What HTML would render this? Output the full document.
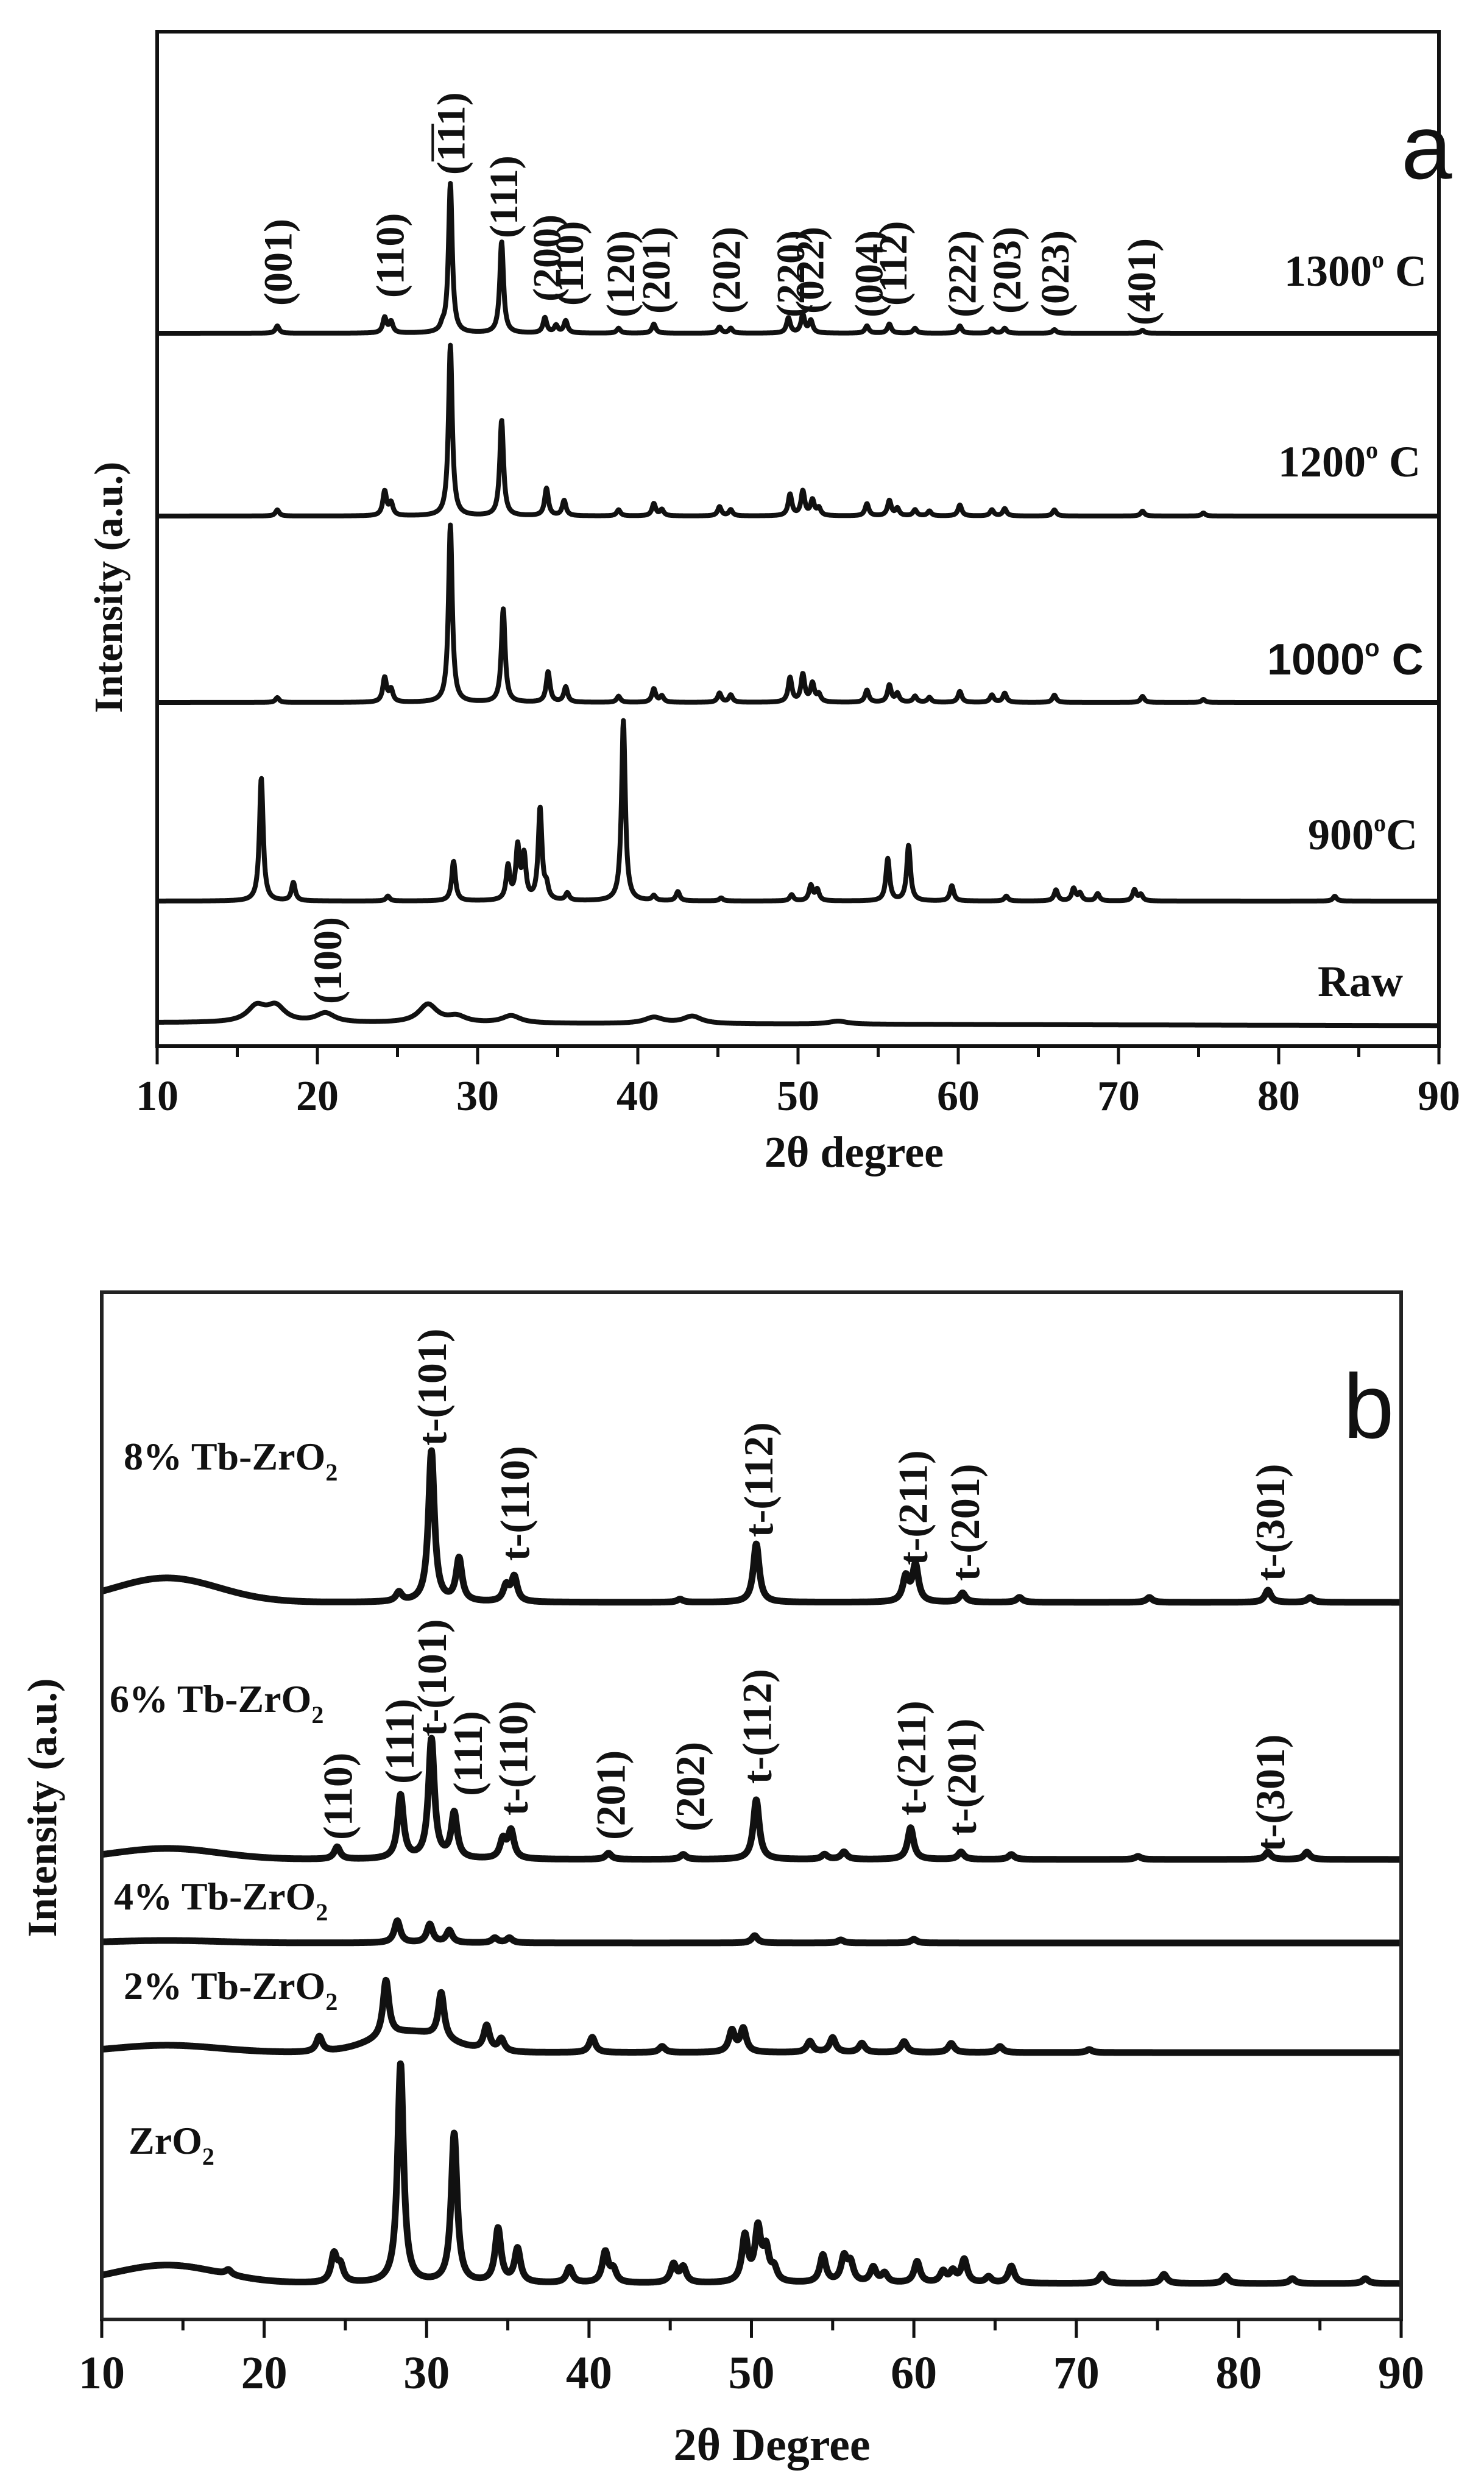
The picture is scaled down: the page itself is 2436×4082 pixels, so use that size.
<!DOCTYPE html>
<html><head><meta charset="utf-8"><style>
html,body{margin:0;padding:0;background:#fff;}
svg{display:block;}
.t{font-family:"Liberation Serif",serif;font-weight:bold;fill:#111;}
.s{font-family:"Liberation Sans",sans-serif;fill:#111;}
</style></head><body>
<svg id="fig" xmlns="http://www.w3.org/2000/svg" width="2436" height="4082" viewBox="0 0 2436 4082">
<rect x="0" y="0" width="2436" height="4082" fill="#fff"/>
<g id="pa"></g>
<g id="pb"></g>
</svg>
<script>
// ---------- DATA: panel a ----------
const aNames = ["1300","1200","1000","900","Raw"];
const aBase = [547, 847, 1153, 1479, 1681];
const aPeaks1300 = [[17.5,12],[24.2,25],[24.6,18],[27.8,8],[28.3,245],[31.5,150],[34.2,25],[34.9,12],[35.5,20],[38.8,8],[41,15],[45.1,10],[45.8,8],[49.4,25],[50.3,30],[50.8,20],[54.3,12],[55.7,15],[57.3,8],[60.1,12],[62.1,7],[62.9,8],[66,6],[71.5,5]];
const aPeaks1200 = [[17.5,10],[24.2,40],[24.6,20],[28.3,280],[31.5,157],[34.3,45],[35.4,25],[38.8,10],[41,20],[41.5,10],[45.1,15],[45.8,10],[49.5,35],[50.3,40],[50.9,25],[51.3,12],[54.3,20],[55.7,25],[56.2,12],[57.3,10],[58.2,8],[60.1,18],[62.1,10],[62.9,12],[66,10],[71.5,8],[75.3,5]];
const aPeaks1000 = [[17.5,8],[24.2,40],[24.6,20],[28.3,291],[31.6,153],[34.4,50],[35.5,25],[38.8,10],[41,22],[41.5,10],[45.1,15],[45.8,12],[49.5,40],[50.3,45],[50.9,30],[51.3,12],[54.3,20],[55.7,28],[56.2,14],[57.3,10],[58.2,8],[60.1,18],[62.1,12],[62.9,15],[66,12],[71.5,10],[75.3,5]];
const aPeaks900 = [[16.5,202],[18.5,30],[24.4,8],[28.5,65],[31.9,55],[32.5,85],[32.9,70],[33.9,150],[34.3,20],[35.6,12],[39.1,296],[41,8],[42.5,15],[45.2,5],[49.6,10],[50.8,25],[51.2,18],[55.6,69],[56.9,91],[59.6,25],[63,8],[66.1,18],[67.2,20],[67.6,12],[68.7,12],[71,18],[71.4,10],[83.5,8]];
const aPeaksRaw = [[16.2,25],[17.4,25],[20.5,15],[26.9,30],[28.7,10],[32.1,12],[41,10],[43.4,12],[52.5,5]];
const aLabelText = ["(001)","(110)","(111)","(111)","(200)","(110)","(120)","(201)","(202)","(220)","(022)","(004)","(112)","(222)","(203)","(023)","(401)","(100)"];
const aLabelPos = [17.5,24.5,28.3,31.6,34.3,35.7,38.9,41.1,45.5,49.5,50.7,54.4,55.9,60.2,63,66,71.4,20.6];
const aLabelBottom = [502,489,287,391,495,502,521,515,515,521,515,521,502,521,515,521,534,1648];
const aTicks = [10,20,30,40,50,60,70,80,90];

// ---------- DATA: panel b ----------
const bNames = ["8%","6%","4%","2%","ZrO2"];
const bBase = [2630, 3052, 3189, 3369, 3748];
const bHump = [[14,40],[14,18],[14,4],[14,12],[14,30]];
const bPeaks8 = [[28.3,15],[30.3,248],[32,70],[34.9,25],[35.4,40],[45.6,5],[50.3,96],[59.5,40],[60.1,60],[63,15],[66.5,8],[74.5,8],[81.8,20],[84.4,8]];
const bPeaks6 = [[24.5,20],[28.4,104],[30.3,196],[31.7,74],[34.7,30],[35.2,45],[41.2,10],[45.8,8],[50.3,98],[54.5,8],[55.7,12],[59.8,52],[62.9,12],[66,8],[73.8,5],[81.8,12],[84.2,12]];
const bPeaks4 = [[28.2,36],[30.2,30],[31.4,20],[34.2,8],[35.1,8],[50.2,12],[55.5,5],[60,6]];
const bPeaks2 = [[23.4,25],[27.5,92],[30.9,75],[33.7,40],[34.6,20],[40.2,25],[44.5,10],[48.8,35],[49.5,38],[53.6,18],[55,24],[56.8,15],[59.4,18],[62.3,15],[65.3,10],[70.8,5]];
const bBroad2 = [29,33];
const bPeaksZ = [[17.8,8],[24.3,45],[24.7,25],[28.4,360],[31.7,245],[34.4,88],[35.6,55],[38.8,25],[41,50],[41.5,20],[45.2,30],[45.8,25],[49.6,75],[50.4,85],[50.9,50],[51.4,20],[54.4,45],[55.7,40],[56.1,30],[57.5,25],[58.2,15],[60.2,35],[61.8,18],[62.4,18],[63.1,38],[64.6,10],[66,28],[71.6,15],[75.4,15],[79.2,12],[83.3,8],[87.8,8]];
const bLabelText = ["t-(101)","t-(110)","t-(112)","t-(211)","t-(201)","t-(301)","(110)","(111)","t-(101)","(111)","t-(110)","(201)","(202)","t-(112)","t-(211)","t-(201)","t-(301)"];
const bLabelPos = [30.3,35.4,50.4,59.9,63.1,81.9,24.5,28.3,30.3,32.5,35.3,41.3,46.2,50.3,59.8,62.9,81.9];
const bLabelBottom = [2373,2562,2523,2569,2595,2595,3020,2928,2850,2948,2980,3020,3006,2928,2980,3013,3039];
const bTicks = [10,20,30,40,50,60,70,80,90];

// ---------- helpers ----------
const NS = "http://www.w3.org/2000/svg";
function mk(tag, attrs, parent){const e=document.createElementNS(NS,tag);for(const k in attrs)e.setAttribute(k,attrs[k]);parent.appendChild(e);return e;}
function prof(x, peaks, w){let s=0;for(const p of peaks){const d=(x-p[0])/w;s+=p[1]/(1+d*d);}return s;}

// ---------- panel a ----------
(function(){
const g=document.getElementById('pa');
const L=258,R=2362,T=52,B=1717;
const X=v=>L+(v-10)*(R-L)/80;
const sets=[aPeaks1300,aPeaks1200,aPeaks1000,aPeaks900,aPeaksRaw];
sets.forEach((pk,i)=>{
  let d="";
  const w=(i===4)?0.7:0.14;
  for(let v=10;v<=90.001;v+=0.03){
    const y=aBase[i]-prof(v,pk,w)+(i===4?(v-50)*0.06:0);
    d+=(d?"L":"M")+X(v).toFixed(1)+","+y.toFixed(1);
  }
  const p=mk('path',{d:d,fill:'none',stroke:'#111','stroke-width':8,'stroke-linejoin':'round'},g);
  
  
});
const fr=mk('rect',{x:L,y:T,width:R-L,height:B-T,fill:'none',stroke:'#111','stroke-width':6},g);


for(let v=10;v<=90;v+=5){
  const major=(v%10===0);
  const tk=mk('line',{x1:X(v),x2:X(v),y1:B,y2:B+(major?30:18),stroke:'#111','stroke-width':5},g);
  
  
}
aTicks.forEach(v=>{
  const t=mk('text',{x:X(v),y:1822,'text-anchor':'middle','font-size':70,class:'t'},g);
  t.textContent=v;
  
  
});
aLabelText.forEach((s,i)=>{
  const x=X(aLabelPos[i])+23,y=aLabelBottom[i];
  const t=mk('text',{x:x,y:y,transform:`rotate(-90 ${x} ${y})`,'font-size':66,class:'t'},g);
  t.textContent=s;
  
  
  if(i===2){const o=mk('line',{x1:x-52,x2:x-52,y1:y-84,y2:y-22,stroke:'#111','stroke-width':4},g);
    
    }
});
})();

// ---------- panel b ----------
(function(){
const g=document.getElementById('pb');
const L=167,R=2300,T=2121,B=3807;
const X=v=>L+(v-10)*(R-L)/80;
const sets=[bPeaks8,bPeaks6,bPeaks4,bPeaks2,bPeaksZ];
sets.forEach((pk,i)=>{
  let d="";
  for(let v=10;v<=90.001;v+=0.03){
    let bg=bHump[i][1]*Math.exp(-Math.pow((v-bHump[i][0])/4.5,2));
    if(i===3) bg+=bBroad2[1]*Math.exp(-Math.pow((v-bBroad2[0])/3.2,2));
    const y=bBase[i]-bg-prof(v,pk,0.22);
    d+=(d?"L":"M")+X(v).toFixed(1)+","+y.toFixed(1);
  }
  const p=mk('path',{d:d,fill:'none',stroke:'#111','stroke-width':11,'stroke-linejoin':'round'},g);
  
  
});
const fr=mk('rect',{x:L,y:T,width:R-L,height:B-T,fill:'none',stroke:'#222','stroke-width':6},g);


for(let v=10;v<=90;v+=5){
  const major=(v%10===0);
  const tk=mk('line',{x1:X(v),x2:X(v),y1:B,y2:B+(major?30:18),stroke:'#111','stroke-width':5},g);
  
  
}
bTicks.forEach(v=>{
  const t=mk('text',{x:X(v),y:3920,'text-anchor':'middle','font-size':76,class:'t'},g);
  t.textContent=v;
  
  
});
bLabelText.forEach((s,i)=>{
  const x=X(bLabelPos[i])+24,y=bLabelBottom[i];
  const t=mk('text',{x:x,y:y,transform:`rotate(-90 ${x} ${y})`,'font-size':68,class:'t'},g);
  t.textContent=s;
  
  
});
})();
</script>
<div style="position:absolute;left:0;top:0;width:2436px;height:4082px;pointer-events:none;">
<svg xmlns="http://www.w3.org/2000/svg" width="2436" height="4082">
<text class="s" x="2300" y="293" font-size="150">a</text>
<text class="t" x="2108" y="469" font-size="72">1300<tspan font-size="40" dy="-30">o</tspan><tspan dy="30"> C</tspan></text>
<text class="t" x="2098" y="782" font-size="72">1200<tspan font-size="40" dy="-30">o</tspan><tspan dy="30"> C</tspan></text>
<text class="s" x="2080" y="1107" font-size="72" font-weight="bold">1000<tspan font-size="40" dy="-30">o</tspan><tspan dy="30"> C</tspan></text>
<text class="t" x="2147" y="1394" font-size="72">900<tspan font-size="40" dy="-30">o</tspan><tspan dy="30">C</tspan></text>
<text class="t" x="2163" y="1635" font-size="72">Raw</text>
<text class="t" x="1402" y="1915" font-size="72" text-anchor="middle">2θ degree</text>
<text class="t" x="0" y="0" font-size="66" text-anchor="middle" transform="translate(200 964) rotate(-90)">Intensity (a.u.)</text>
<text class="s" x="2205" y="2360" font-size="150">b</text>
<text class="t" x="203" y="2412" font-size="64">8% Tb-ZrO<tspan font-size="40" dy="18">2</tspan></text>
<text class="t" x="180" y="2810" font-size="64">6% Tb-ZrO<tspan font-size="40" dy="18">2</tspan></text>
<text class="t" x="187" y="3134" font-size="64">4% Tb-ZrO<tspan font-size="40" dy="18">2</tspan></text>
<text class="t" x="203" y="3281" font-size="64">2% Tb-ZrO<tspan font-size="40" dy="18">2</tspan></text>
<text class="t" x="211" y="3535" font-size="64">ZrO<tspan font-size="40" dy="18">2</tspan></text>
<text class="t" x="1267" y="4038" font-size="76" text-anchor="middle">2θ Degree</text>
<text class="t" x="0" y="0" font-size="68" text-anchor="middle" transform="translate(92 2967) rotate(-90)">Intensity (a.u.)</text>
</svg>
</div>
</body></html>
